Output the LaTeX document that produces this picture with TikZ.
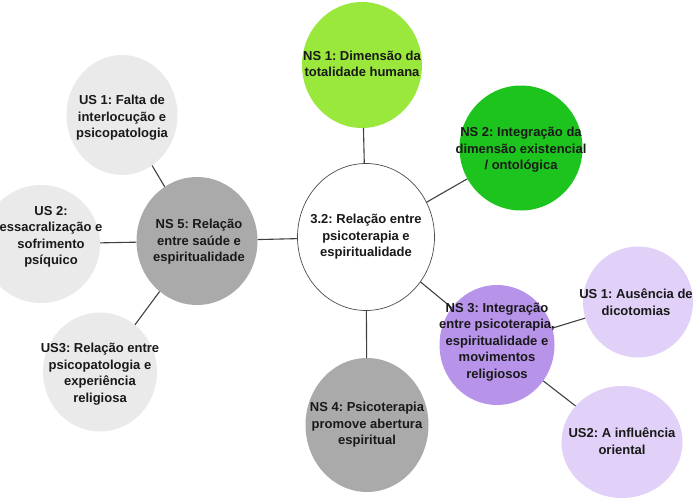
\documentclass[tikz,border=0pt]{standalone}
\usepackage{fontspec}
\setmainfont{Liberation Sans}
\usetikzlibrary{shapes.geometric}
\frenchspacing
\definecolor{nsone}{RGB}{155,232,60}
\definecolor{nstwo}{RGB}{30,196,30}
\definecolor{nsthree}{RGB}{183,148,234}
\definecolor{uspurple}{RGB}{225,208,247}
\definecolor{nsgrey}{RGB}{170,170,170}
\definecolor{usgrey}{RGB}{234,234,234}
\definecolor{linec}{RGB}{60,66,66}
\definecolor{txtc}{RGB}{25,25,25}
\begin{document}
\begin{tikzpicture}[x=1pt,y=-1pt,
  bub/.style={ellipse, draw=none, inner sep=0pt},
  txt/.style={align=center, text=txtc, font=\fontsize{13}{16.5}\selectfont\bfseries, inner sep=0pt},
  link/.style={draw=linec, line width=1.1pt}]
\useasboundingbox (0,0) rectangle (693,498);
% shapes
\node[bub, fill=white, draw=black!70, line width=0.7pt, minimum width=137, minimum height=147] (c) at (366,237) {};
\node[bub, fill=nsone, minimum width=120, minimum height=126] (ns1) at (362,65) {};
\node[bub, fill=nstwo, minimum width=123, minimum height=125] (ns2) at (521,148) {};
\node[bub, fill=nsthree, minimum width=115, minimum height=120] (ns3) at (497,345) {};
\node[bub, fill=uspurple, minimum width=110, minimum height=111] (us1r) at (638,302) {};
\node[bub, fill=uspurple, minimum width=121, minimum height=112] (us2r) at (622,442) {};
\node[bub, fill=nsgrey, minimum width=123, minimum height=134] (ns4) at (367,425) {};
\node[bub, fill=nsgrey, minimum width=121, minimum height=128] (ns5) at (197,241) {};
\node[bub, fill=usgrey, minimum width=111, minimum height=120] (us1l) at (122,115) {};
\node[bub, fill=usgrey, minimum width=118, minimum height=118] (us2l) at (41,244) {};
\node[bub, fill=usgrey, minimum width=114, minimum height=119] (us3l) at (100,372) {};
% connectors
\draw[link] (c) -- (ns1);
\draw[link] (c) -- (ns2);
\draw[link] (c) -- (ns3);
\draw[link] (c) -- (ns4);
\draw[link] (c) -- (ns5);
\draw[link] (ns3) -- (us1r);
\draw[link] (ns3) -- (us2r);
\draw[link] (ns5) -- (us1l);
\draw[link] (ns5) -- (us2l);
\draw[link] (ns5) -- (us3l);
% texts
\node[txt] (tc) at (366,237) {3.2: Relação entre\\psicoterapia e\\espiritualidade};
\node[txt] (tns1) at (362,64) {NS 1: Dimensão da\\totalidade humana};
\node[txt] (tns2) at (521,150) {NS 2: Integração da\\dimensão existencial\\/ ontológica};
\node[txt] (tns3) at (497,342) {NS 3: Integração\\entre psicoterapia,\\espiritualidade e\\movimentos\\religiosos};
\node[txt] (tus1r) at (636,302) {US 1: Ausência de\\dicotomias};
\node[txt] (tus2r) at (622,441) {US2: A influência\\oriental};
\node[txt] (tns4) at (367,425) {NS 4: Psicoterapia\\promove abertura\\espiritual};
\node[txt] (tns5) at (199,242) {NS 5: Relação\\entre saúde e\\espiritualidade};
\node[txt] (tus1l) at (122,118) {US 1: Falta de\\interlocução e\\psicopatologia};
\node[txt] (tus2l) at (51,237) {US 2:\\essacralização e\\sofrimento\\psíquico};
\node[txt] (tus3l) at (100,374) {US3: Relação entre\\psicopatologia e\\experiência\\religiosa};
\end{tikzpicture}
\end{document}
